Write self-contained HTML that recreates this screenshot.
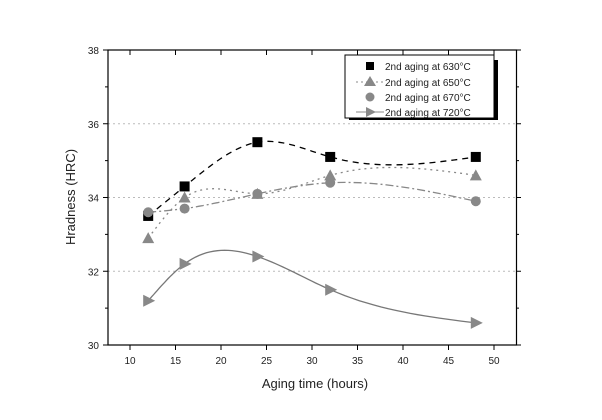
<!DOCTYPE html><html><head><style>body{margin:0;background:#fff}svg{font-family:"Liberation Sans",sans-serif}</style></head><body>
<svg id="s" width="602" height="415" xmlns="http://www.w3.org/2000/svg">
<rect width="602" height="415" fill="#fff"/>
<g stroke="#bbb" stroke-dasharray="2,3" stroke-width="1">
<line x1="108" x2="516" y1="123.75" y2="123.75"/><line x1="108" x2="516" y1="197.5" y2="197.5"/><line x1="108" x2="516" y1="271.25" y2="271.25"/></g>
<rect x="108" y="50" width="408.5" height="295" fill="none" stroke="#000" stroke-width="1.2"/>
<g id="ticks" stroke="#000"></g>
<g font-size="10" fill="#222" id="labels"></g>
<text x="315" y="388" font-size="13" fill="#222" text-anchor="middle">Aging time (hours)</text>
<text transform="translate(75,197) rotate(-90)" font-size="13" fill="#222" text-anchor="middle">Hradness (HRC)</text>
<g id="series"></g>
<rect x="349" y="60" width="149" height="60" fill="#000"/>
<rect x="345" y="55" width="149" height="63" fill="#fff" stroke="#000"/>
<g font-size="10" fill="#222">
<rect x="366" y="62" width="8" height="8" fill="#000"/><text x="385" y="70">2nd aging at 630°C</text>
<line x1="356" x2="384" y1="82" y2="82" stroke="#888" stroke-dasharray="2,3"/><polygon points="370,76 376,86 364,86" fill="#888"/><text x="385" y="86">2nd aging at 650°C</text>
<circle cx="370" cy="97" r="4.5" fill="#888"/><text x="385" y="101">2nd aging at 670°C</text>
<line x1="356" x2="384" y1="112" y2="112" stroke="#888"/><polygon points="366,107 376,112 366,117" fill="#888"/><text x="385" y="116">2nd aging at 720°C</text>
</g>
</svg>
<script>
const X=v=>130+(v-10)*9.1,Y=v=>345-(v-30)*36.875,NS="http://www.w3.org/2000/svg";
function el(p,t,a){const e=document.createElementNS(NS,t);for(const k in a)e.setAttribute(k,a[k]);p.appendChild(e);return e}
const T=document.getElementById('ticks'),L=document.getElementById('labels'),S=document.getElementById('series');
for(let v=10;v<=50;v+=5){const x=X(v);el(T,'line',{x1:x,x2:x,y1:345,y2:350});el(T,'line',{x1:x,x2:x,y1:50,y2:55});el(L,'text',{x:x,y:364,'text-anchor':'middle'}).textContent=v;}
for(let v=30;v<=38;v++){const y=Y(v),big=v%2==0;el(T,'line',{x1:big?103:105,x2:108,y1:y,y2:y});el(T,'line',{x1:516.5,x2:big?521:519,y1:y,y2:y});if(big)el(L,'text',{x:99,y:y+4,'text-anchor':'end'}).textContent=v;}
const xs=[12,16,24,32,48];
const D=[[[33.5,34.3,35.5,35.1,35.1],'#000','6,5','sq'],[[32.9,34.0,34.1,34.6,34.6],'#888','2,4','tri'],[[33.6,33.7,34.1,34.4,33.9],'#888','8,3,2,3','cir'],[[31.2,32.2,32.4,31.5,30.6],'#777','','rt']];
function spline(px,py){
const n=px.length,h=[],a=[],l=[1],mu=[0],z=[0],c=[],b=[],d=[];
for(let i=0;i<n-1;i++)h[i]=px[i+1]-px[i];
for(let i=1;i<n-1;i++)a[i]=3/h[i]*(py[i+1]-py[i])-3/h[i-1]*(py[i]-py[i-1]);
for(let i=1;i<n-1;i++){l[i]=2*(px[i+1]-px[i-1])-h[i-1]*mu[i-1];mu[i]=h[i]/l[i];z[i]=(a[i]-h[i-1]*z[i-1])/l[i];}
c[n-1]=0;for(let j=n-2;j>=0;j--){c[j]=z[j]-mu[j]*c[j+1];b[j]=(py[j+1]-py[j])/h[j]-h[j]*(c[j+1]+2*c[j])/3;d[j]=(c[j+1]-c[j])/(3*h[j]);}
let s='';for(let j=0;j<n-1;j++)for(let k=0;k<=20;k++){const t=h[j]*k/20,v=py[j]+b[j]*t+c[j]*t*t+d[j]*t*t*t;s+=(s?'L':'M')+X(px[j]+t).toFixed(1)+','+Y(v).toFixed(1);}return s;}
for(const [ys,col,da,m] of D){el(S,'path',{d:spline(xs,ys),fill:'none',stroke:col,'stroke-width':1.3,'stroke-dasharray':da});}
for(const [ys,col,da,m] of D)xs.forEach((v,i)=>{const x=X(v),y=Y(ys[i]);
if(m=='sq')el(S,'rect',{x:x-5,y:y-5,width:10,height:10,fill:'#000'});
if(m=='tri')el(S,'polygon',{points:`${x},${y-6} ${x+6},${y+5} ${x-6},${y+5}`,fill:'#888'});
if(m=='cir')el(S,'circle',{cx:x,cy:y,r:5,fill:'#888'});
if(m=='rt')el(S,'polygon',{points:`${x-5},${y-6} ${x+7},${y} ${x-5},${y+6}`,fill:'#888'});});
</script>
</body></html>
